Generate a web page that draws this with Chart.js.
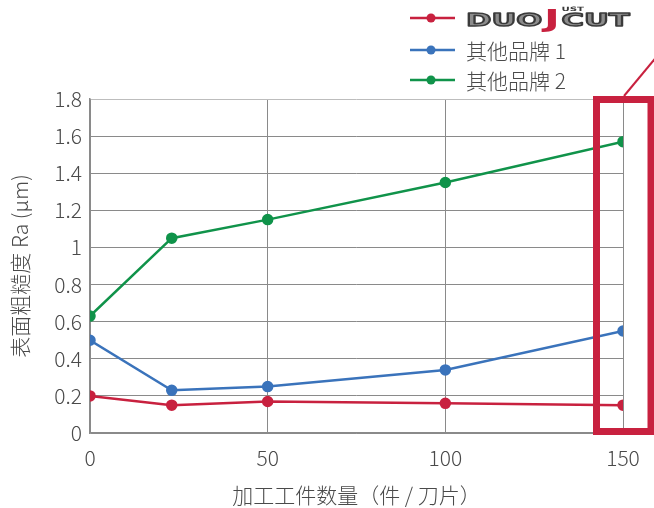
<!DOCTYPE html>
<html>
<head>
<meta charset="utf-8">
<script src="https://cdn.jsdelivr.net/npm/chart.js@4/dist/chart.umd.min.js"></script>
<style>
  html, body { margin: 0; padding: 0; background: #fff; }
  #wrap { width: 654px; height: 508px; position: relative; }
</style>
</head>
<body>
<div id="wrap"><canvas id="chart"></canvas></div>
<script>
// pieces machined (x) and surface roughness Ra in µm
const workpieces = [0, 23, 50, 100, 150];
const duojcut = [0.20, 0.15, 0.17, 0.16, 0.15];
const brand1 = [0.50, 0.23, 0.25, 0.34, 0.55];
const brand2 = [0.63, 1.05, 1.15, 1.35, 1.57];
const xTicks = [0, 50, 100, 150];
const seriesNames = ['DUOJUSTCUT', '其他品牌 1', '其他品牌 2'];

const RED = '#c8213f', BLUE = '#3a73bb', GREEN = '#10934a';
const FONT = '"Noto Sans CJK SC", "Noto Sans", sans-serif';
const TEXT = '#4a4a4a';

function pts(ys) {
  return workpieces.map((x, i) => ({ x: x, y: ys[i] }));
}

function series(label, ys, color) {
  return {
    label: label,
    data: pts(ys),
    borderColor: color,
    backgroundColor: color,
    borderWidth: 2.5,
    pointRadius: 4.5,
    pointHoverRadius: 4.5,
    tension: 0
  };
}

/**
 * the logo for the first legend entry, drawn as text
 */
function drawLogo(ctx, x, y) {
  ctx.save();
  ctx.textBaseline = 'alphabetic';
  ctx.lineJoin = 'round';
  ctx.translate(x, y);
  ctx.scale(1.7, 1);
  ctx.font = '900 18px "DejaVu Sans", sans-serif';
  ctx.lineWidth = 1.4;
  ctx.strokeStyle = '#3a3a3a';
  ctx.fillStyle = '#8c8c8c';
  ctx.fillText('DUO', 0, 0);
  ctx.strokeText('DUO', 0, 0);
  let w = ctx.measureText('DUO').width + 1;
  ctx.fillStyle = RED;
  ctx.font = '900 25px "DejaVu Sans", sans-serif';
  ctx.fillText('J', w, 1);
  let jw = ctx.measureText('J').width;
  ctx.fillStyle = '#3a3a3a';
  ctx.font = '900 6px "DejaVu Sans", sans-serif';
  ctx.fillText('UST', w + jw + 1, -15);
  ctx.font = '900 18px "DejaVu Sans", sans-serif';
  ctx.fillStyle = '#8c8c8c';
  ctx.fillText('CUT', w + jw + 1, 0);
  ctx.strokeText('CUT', w + jw + 1, 0);
  ctx.restore();
}

const legendPlugin = {
  id: 'sideLegend',
  afterDraw(chart) {
    const ctx = chart.ctx;
    const rows = [18, 50, 80];
    chart.data.datasets.forEach((ds, i) => {
      const y = rows[i];
      ctx.save();
      ctx.strokeStyle = ds.borderColor;
      ctx.lineWidth = 2.5;
      ctx.beginPath();
      ctx.moveTo(410, y);
      ctx.lineTo(455, y);
      ctx.stroke();
      ctx.fillStyle = ds.borderColor;
      ctx.beginPath();
      ctx.arc(431, y, 4.5, 0, Math.PI * 2);
      ctx.fill();
      if (i === 0) {
        drawLogo(ctx, 466, y + 8);
      } else {
        ctx.fillStyle = TEXT;
        ctx.font = '300 21px ' + FONT;
        ctx.textBaseline = 'middle';
        ctx.fillText(ds.label, 466, y + 1);
      }
      ctx.restore();
    });
  }
};

// highlight box round the 150 column
const boxPlugin = {
  id: 'highlight',
  afterDraw(chart) {
    const ctx = chart.ctx;
    const xs = chart.scales.x;
    const area = chart.chartArea;
    const cx = xs.getPixelForValue(150);
    ctx.save();
    ctx.strokeStyle = RED;
    ctx.lineWidth = 7;
    ctx.strokeRect(cx - 26.5, area.top + 0.5, 54.5, area.bottom - area.top - 2);
    ctx.lineWidth = 2;
    ctx.beginPath();
    ctx.moveTo(cx + 1, area.top - 3);
    ctx.lineTo(cx + 40, area.top - 50);
    ctx.stroke();
    ctx.restore();
  }
};

new Chart(document.getElementById('chart'), {
  type: 'line',
  data: {
    datasets: [
      series(seriesNames[0], duojcut, RED),
      series(seriesNames[1], brand1, BLUE),
      series(seriesNames[2], brand2, GREEN)
    ]
  },
  options: {
    responsive: true,
    maintainAspectRatio: false,
    animation: false,
    events: [],
    layout: { padding: { top: 99, right: 31, left: 0, bottom: 0 } },
    plugins: {
      legend: { display: false },
      tooltip: { enabled: false }
    },
    scales: {
      x: {
        type: 'linear',
        min: 0,
        max: 150,
        afterBuildTicks: axis => { axis.ticks = xTicks.map(v => ({ value: v })); },
        afterFit: axis => { axis.height = 75; },
        grid: { color: '#8a8a8a', lineWidth: 1, drawTicks: false },
        border: { color: '#8a8a8a', width: 1.5 },
        ticks: {
          color: TEXT,
          font: { family: FONT, size: 21, weight: '300' },
          padding: 12,
          maxRotation: 0
        },
        title: {
          display: true,
          text: '加工工件数量（件 / 刀片）',
          color: TEXT,
          font: { family: FONT, size: 21, weight: '300' },
          padding: { top: 4, bottom: 0 }
        }
      },
      y: {
        min: 0,
        max: 1.8,
        afterFit: axis => { axis.width = 90; },
        ticks: {
          stepSize: 0.2,
          color: TEXT,
          font: { family: FONT, size: 21, weight: '300' },
          padding: 8,
          callback: v => Number(v.toFixed(1)).toString()
        },
        grid: {
          color: ctx => ctx.tick && ctx.tick.value === 1.8 ? '#bdbdbd' : '#8a8a8a',
          lineWidth: 1,
          drawTicks: false
        },
        border: { color: '#8a8a8a', width: 1.5 },
        title: {
          display: true,
          text: '表面粗糙度 Ra (μm)',
          color: TEXT,
          font: { family: FONT, size: 21, weight: '300' },
          padding: { top: 7, bottom: 0 }
        }
      }
    }
  },
  plugins: [legendPlugin, boxPlugin]
});
</script>
</body>
</html>
